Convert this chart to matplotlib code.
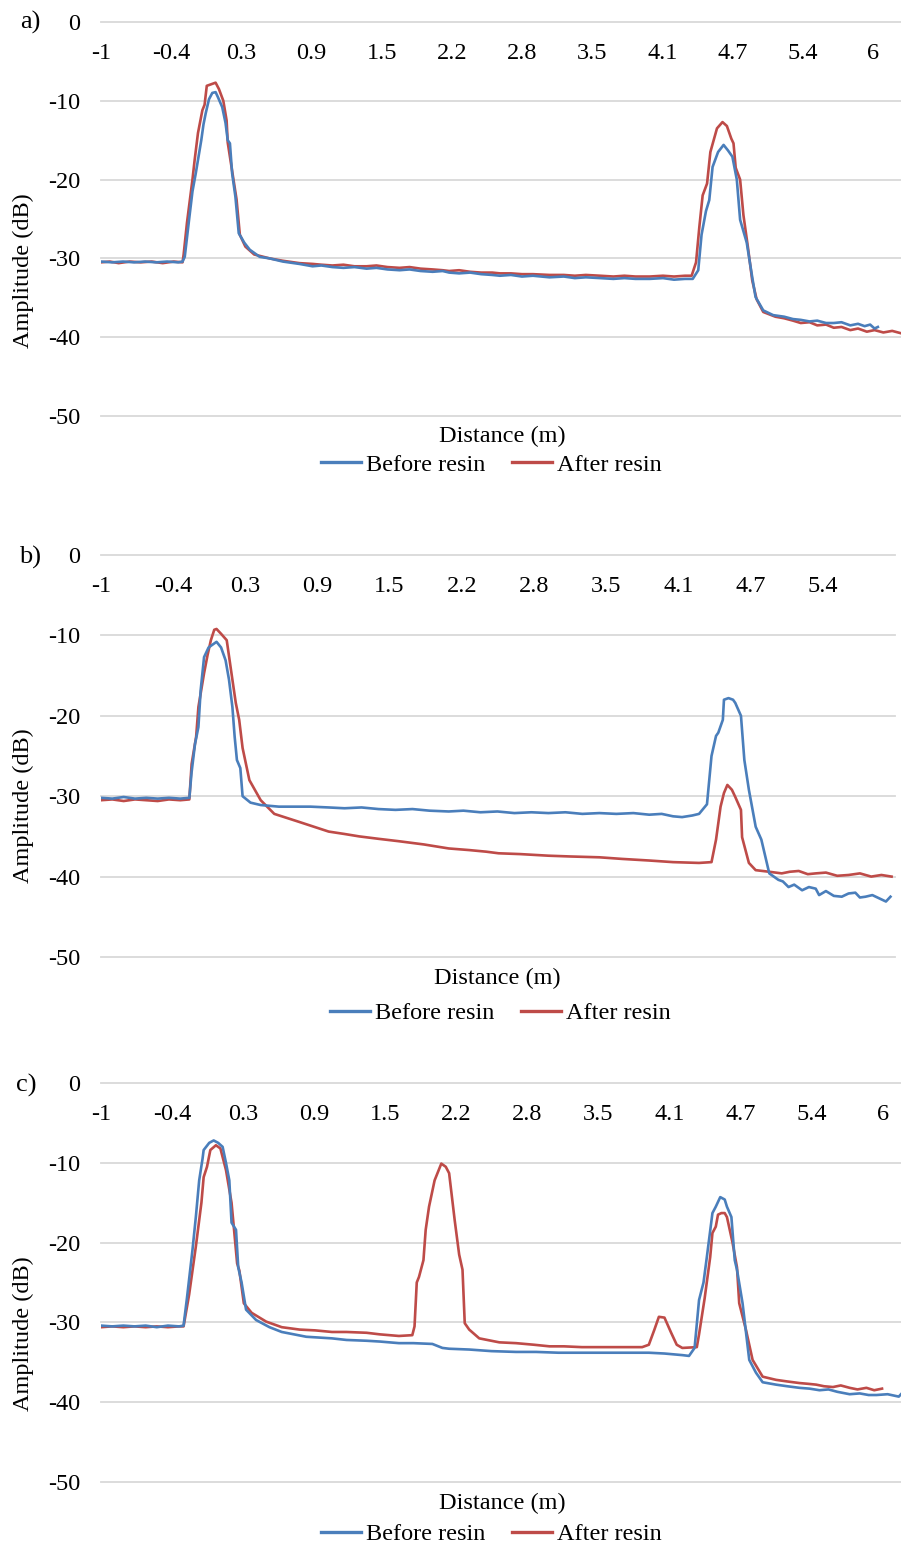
import numpy as np
import matplotlib
matplotlib.use("Agg")
import matplotlib.pyplot as plt
from matplotlib.lines import Line2D

plt.rcParams['font.family'] = ['Liberation Serif', 'DejaVu Serif']
plt.rcParams['font.size'] = 17.5
plt.rcParams['axes.unicode_minus'] = False

W, H = 901, 1548
BLUE = '#4a7ebb'
RED = '#be4b48'
GRID = '#d9d9d9'
FS = 17.5

# (distance m, amplitude dB)
a_before = [(-1.00,-30.4),(-0.90,-30.5),(-0.80,-30.4),(-0.70,-30.5),(-0.60,-30.4),(-0.50,-30.5),
            (-0.40,-30.4),(-0.30,-30.5),(-0.26,-30.4),(-0.24,-29.8),(-0.20,-25.0),(-0.17,-21.5),
            (-0.14,-19.2),(-0.09,-15.0),(-0.07,-13.0),(-0.05,-11.6),(-0.02,-9.8),(0.01,-9.0),
            (0.04,-8.9),(0.06,-9.5),(0.10,-10.8),(0.13,-12.8),(0.15,-15.0),(0.17,-15.4),
            (0.19,-19.2),(0.22,-22.2),(0.25,-26.8),(0.30,-28.0),(0.35,-28.9),(0.44,-29.8),
            (0.53,-30.0),(0.65,-30.4),(0.80,-30.7),(0.92,-31.0),(1.00,-30.9),(1.10,-31.1),
            (1.20,-31.2),(1.30,-31.1),(1.41,-31.3),(1.50,-31.2),(1.60,-31.4),(1.71,-31.5),
            (1.80,-31.4),(1.90,-31.6),(2.01,-31.7),(2.10,-31.6),(2.16,-31.8),(2.25,-31.9),
            (2.35,-31.8),(2.45,-32.0),(2.55,-32.1),(2.62,-32.2),(2.72,-32.1),(2.82,-32.3),
            (2.92,-32.2),(3.07,-32.4),(3.20,-32.3),(3.30,-32.5),(3.40,-32.4),(3.53,-32.5),
            (3.65,-32.6),(3.75,-32.5),(3.85,-32.6),(3.98,-32.6),(4.10,-32.5),(4.20,-32.7),
            (4.30,-32.6),(4.37,-32.6),(4.42,-31.5),(4.45,-27.0),(4.49,-24.0),(4.52,-22.6),
            (4.55,-18.4),(4.60,-16.5),(4.65,-15.6),(4.69,-16.3),(4.73,-17.1),(4.77,-20.0),
            (4.80,-25.1),(4.86,-28.0),(4.91,-32.4),(4.94,-34.9),(5.01,-36.6),(5.10,-37.2),
            (5.20,-37.4),(5.28,-37.7),(5.35,-37.8),(5.43,-38.0),(5.50,-37.9),(5.58,-38.2),
            (5.65,-38.2),(5.72,-38.1),(5.80,-38.5),(5.87,-38.3),(5.93,-38.6),(5.98,-38.4),
            (6.02,-38.9),(6.05,-38.7)]
a_after = [(-1.00,-30.5),(-0.92,-30.4),(-0.84,-30.6),(-0.74,-30.4),(-0.64,-30.5),(-0.54,-30.4),
           (-0.44,-30.6),(-0.34,-30.4),(-0.26,-30.5),(-0.25,-29.5),(-0.22,-25.5),(-0.17,-20.0),
           (-0.15,-17.5),(-0.12,-14.1),(-0.08,-11.2),(-0.06,-10.5),(-0.04,-8.1),(0.00,-7.9),
           (0.04,-7.7),(0.07,-8.5),(0.11,-10.0),(0.14,-12.5),(0.15,-15.3),(0.18,-18.0),
           (0.20,-19.8),(0.23,-22.5),(0.26,-27.0),(0.31,-28.5),(0.39,-29.5),(0.53,-30.0),
           (0.65,-30.3),(0.80,-30.6),(0.92,-30.7),(1.00,-30.8),(1.10,-30.9),(1.20,-30.8),
           (1.30,-31.0),(1.41,-31.0),(1.50,-30.9),(1.60,-31.1),(1.71,-31.2),(1.80,-31.1),
           (1.90,-31.3),(2.01,-31.4),(2.10,-31.5),(2.16,-31.6),(2.25,-31.5),(2.35,-31.7),
           (2.45,-31.8),(2.55,-31.8),(2.62,-31.9),(2.72,-31.9),(2.82,-32.0),(2.92,-32.0),
           (3.07,-32.1),(3.20,-32.1),(3.30,-32.2),(3.40,-32.1),(3.53,-32.2),(3.65,-32.3),
           (3.75,-32.2),(3.85,-32.3),(3.98,-32.3),(4.10,-32.2),(4.20,-32.3),(4.30,-32.2),
           (4.36,-32.2),(4.40,-30.5),(4.43,-26.0),(4.46,-22.0),(4.50,-20.5),(4.53,-16.5),
           (4.55,-15.5),(4.59,-13.5),(4.64,-12.7),(4.68,-13.2),(4.72,-14.8),(4.74,-15.4),
           (4.76,-18.5),(4.80,-20.0),(4.83,-24.5),(4.87,-28.5),(4.91,-32.8),(4.95,-35.2),
           (5.01,-36.8),(5.12,-37.4),(5.20,-37.6),(5.28,-37.9),(5.35,-38.2),(5.43,-38.1),
           (5.50,-38.5),(5.58,-38.4),(5.65,-38.8),(5.72,-38.7),(5.80,-39.1),(5.87,-38.9),
           (5.95,-39.3),(6.02,-39.1),(6.10,-39.4),(6.18,-39.2),(6.26,-39.5)]

b_before = [(-1.00,-30.2),(-0.90,-30.3),(-0.80,-30.1),(-0.70,-30.3),(-0.60,-30.2),(-0.50,-30.3),
            (-0.40,-30.2),(-0.30,-30.3),(-0.22,-30.2),(-0.20,-27.0),(-0.17,-23.5),(-0.14,-21.4),
            (-0.12,-16.8),(-0.09,-12.7),(-0.05,-11.5),(0.02,-10.8),(0.06,-11.5),(0.10,-13.1),
            (0.13,-15.5),(0.16,-18.9),(0.18,-22.6),(0.20,-25.5),(0.23,-26.5),(0.25,-30.0),
            (0.32,-30.8),(0.41,-31.1),(0.57,-31.3),(0.70,-31.3),(0.85,-31.3),(1.01,-31.4),
            (1.15,-31.5),(1.30,-31.4),(1.45,-31.6),(1.60,-31.7),(1.75,-31.6),(1.90,-31.8),
            (2.07,-31.9),(2.20,-31.8),(2.35,-32.0),(2.50,-31.9),(2.65,-32.1),(2.80,-32.0),
            (2.95,-32.1),(3.10,-32.0),(3.25,-32.2),(3.40,-32.1),(3.55,-32.2),(3.70,-32.1),
            (3.84,-32.3),(3.95,-32.2),(4.05,-32.5),(4.13,-32.6),(4.22,-32.4),(4.28,-32.2),
            (4.35,-31.0),(4.39,-25.0),(4.43,-22.5),(4.45,-22.1),(4.49,-20.5),(4.50,-18.0),
            (4.54,-17.8),(4.58,-18.0),(4.60,-18.4),(4.65,-20.0),(4.68,-25.5),(4.72,-29.2),
            (4.78,-33.8),(4.83,-35.4),(4.90,-39.6),(4.98,-40.4),(5.02,-40.6),(5.07,-41.3),
            (5.12,-41.0),(5.19,-41.7),(5.25,-41.3),(5.31,-41.5),(5.34,-42.3),(5.40,-41.8),
            (5.47,-42.4),(5.54,-42.5),(5.60,-42.1),(5.66,-42.0),(5.70,-42.6),(5.75,-42.5),
            (5.81,-42.3),(5.87,-42.7),(5.93,-43.1),(5.97,-42.5)]
b_after = [(-1.00,-30.5),(-0.90,-30.4),(-0.80,-30.6),(-0.70,-30.4),(-0.60,-30.5),(-0.50,-30.6),
           (-0.40,-30.4),(-0.30,-30.5),(-0.22,-30.4),(-0.20,-26.0),(-0.16,-22.6),(-0.14,-18.9),
           (-0.09,-14.7),(-0.06,-12.5),(-0.03,-10.6),(0.00,-9.3),(0.02,-9.2),(0.06,-9.8),
           (0.11,-10.6),(0.16,-15.5),(0.19,-18.4),(0.22,-20.5),(0.25,-24.0),(0.31,-28.0),
           (0.41,-30.5),(0.53,-32.2),(0.75,-33.2),(0.88,-33.8),(1.01,-34.4),(1.15,-34.7),
           (1.28,-35.0),(1.45,-35.3),(1.63,-35.6),(1.85,-36.0),(2.07,-36.5),(2.25,-36.7),
           (2.40,-36.9),(2.51,-37.1),(2.70,-37.2),(2.95,-37.4),(3.15,-37.5),(3.40,-37.6),
           (3.60,-37.8),(3.84,-38.0),(4.05,-38.2),(4.28,-38.3),(4.39,-38.2),(4.43,-35.4),
           (4.47,-31.3),(4.50,-29.6),(4.53,-28.6),(4.57,-29.2),(4.60,-30.1),(4.65,-31.7),
           (4.66,-35.1),(4.72,-38.3),(4.78,-39.2),(4.90,-39.4),(5.01,-39.6),(5.08,-39.4),
           (5.16,-39.3),(5.24,-39.7),(5.31,-39.6),(5.40,-39.5),(5.50,-39.9),(5.60,-39.8),
           (5.70,-39.6),(5.80,-40.0),(5.89,-39.8),(5.98,-40.0)]

c_before = [(-1.00,-30.4),(-0.90,-30.5),(-0.80,-30.4),(-0.70,-30.5),(-0.60,-30.4),(-0.50,-30.6),
            (-0.40,-30.4),(-0.30,-30.5),(-0.26,-30.4),(-0.23,-27.0),(-0.18,-20.9),(-0.15,-16.8),
            (-0.12,-12.2),(-0.09,-9.5),(-0.08,-8.4),(-0.03,-7.5),(0.01,-7.2),(0.05,-7.5),
            (0.09,-8.0),(0.12,-10.0),(0.15,-12.2),(0.17,-17.5),(0.21,-18.4),(0.23,-23.1),
            (0.26,-25.0),(0.30,-28.4),(0.39,-29.7),(0.51,-30.6),(0.62,-31.2),(0.84,-31.8),
            (1.07,-32.0),(1.20,-32.2),(1.38,-32.3),(1.50,-32.4),(1.67,-32.6),(1.80,-32.6),
            (1.97,-32.7),(2.06,-33.2),(2.12,-33.3),(2.30,-33.4),(2.50,-33.6),(2.72,-33.7),
            (2.90,-33.7),(3.10,-33.8),(3.31,-33.8),(3.50,-33.8),(3.70,-33.8),(3.91,-33.8),
            (4.05,-33.9),(4.21,-34.1),(4.27,-34.2),(4.32,-33.2),(4.36,-27.2),(4.40,-25.0),
            (4.43,-21.8),(4.48,-16.3),(4.51,-15.5),(4.55,-14.3),(4.59,-14.6),(4.61,-15.5),
            (4.65,-16.8),(4.68,-22.2),(4.70,-23.4),(4.75,-27.6),(4.81,-34.7),(4.87,-36.3),
            (4.93,-37.5),(5.05,-37.8),(5.15,-38.0),(5.26,-38.2),(5.35,-38.3),(5.44,-38.5),
            (5.52,-38.4),(5.60,-38.7),(5.71,-39.0),(5.80,-38.9),(5.88,-39.1),(5.95,-39.1),
            (6.05,-39.0),(6.15,-39.3),(6.17,-39.0)]
c_after = [(-1.00,-30.6),(-0.90,-30.5),(-0.80,-30.6),(-0.70,-30.5),(-0.60,-30.6),(-0.50,-30.5),
           (-0.40,-30.6),(-0.30,-30.5),(-0.26,-30.5),(-0.21,-26.5),(-0.15,-20.5),(-0.10,-15.0),
           (-0.08,-11.8),(-0.05,-10.5),(-0.02,-8.4),(0.03,-7.8),(0.07,-8.2),(0.12,-10.9),
           (0.17,-15.0),(0.19,-18.0),(0.22,-22.6),(0.24,-23.5),(0.28,-27.6),(0.35,-28.8),
           (0.48,-29.9),(0.62,-30.6),(0.78,-30.9),(0.92,-31.0),(1.07,-31.2),(1.20,-31.2),
           (1.38,-31.3),(1.50,-31.5),(1.67,-31.7),(1.79,-31.6),(1.81,-30.5),(1.83,-25.0),
           (1.85,-24.3),(1.89,-22.2),(1.91,-18.4),(1.94,-15.5),(1.99,-12.2),(2.01,-11.5),
           (2.05,-10.1),(2.09,-10.5),(2.12,-11.3),(2.17,-17.2),(2.21,-21.5),(2.24,-23.4),
           (2.26,-30.1),(2.30,-30.9),(2.39,-32.0),(2.57,-32.5),(2.72,-32.6),(2.88,-32.8),
           (3.02,-33.0),(3.15,-33.0),(3.31,-33.1),(3.50,-33.1),(3.70,-33.1),(3.85,-33.1),
           (3.91,-32.8),(3.96,-30.9),(4.00,-29.3),(4.05,-29.4),(4.11,-31.3),(4.16,-32.8),
           (4.21,-33.2),(4.34,-33.1),(4.36,-31.5),(4.41,-27.0),(4.46,-21.8),(4.48,-18.8),
           (4.51,-18.0),(4.53,-16.5),(4.56,-16.3),(4.59,-16.3),(4.61,-16.8),(4.66,-20.0),
           (4.70,-23.1),(4.72,-27.6),(4.78,-30.9),(4.84,-34.7),(4.93,-36.8),(5.05,-37.2),
           (5.15,-37.4),(5.26,-37.6),(5.34,-37.7),(5.41,-37.8),(5.48,-38.0),(5.56,-38.1),
           (5.63,-37.9),(5.71,-38.2),(5.78,-38.4),(5.86,-38.2),(5.93,-38.5),(6.00,-38.3)]

x_labels_full = ['-1', '-0.4', '0.3', '0.9', '1.5', '2.2', '2.8', '3.5', '4.1', '4.7', '5.4', '6']
x_labels_b = x_labels_full[:-1]
y_ticks = [0, -10, -20, -30, -40, -50]
label_step = 0.637   # one tick label every N samples of the distance axis


def fx(px):
    return px / W


def fy(py):
    return 1 - py / H


# per panel: axes box (left, top, right, bottom in px), x max, labels, letter, text spots
panels = [
    dict(letter='a)', box=(101, 22, 901, 416), xmax=6.26, labels=x_labels_full,
         before=a_before, after=a_after, letter_xy=(30, 22), xlabel_xy=(502, 436),
         legend_xy=(491, 465), ylabel_y=271),
    dict(letter='b)', box=(101, 555, 895, 957), xmax=6.01, labels=x_labels_b,
         before=b_before, after=b_after, letter_xy=(30, 557), xlabel_xy=(497, 978),
         legend_xy=(500, 1013), ylabel_y=806),
    dict(letter='c)', box=(101, 1083, 901, 1482), xmax=6.17, labels=x_labels_full,
         before=c_before, after=c_after, letter_xy=(26, 1085), xlabel_xy=(502, 1503),
         legend_xy=(491, 1534), ylabel_y=1334),
]

fig = plt.figure(figsize=(W / 100, H / 100), dpi=100)

for p in panels:
    l, t, r, b = p['box']
    ax = fig.add_axes([fx(l), fy(b), fx(r - l), (b - t) / H])
    bx, by = np.array(p['before']).T
    rx, ry = np.array(p['after']).T
    ax.plot(bx, by, color=BLUE, lw=1.9, solid_joinstyle='round', zorder=3)
    ax.plot(rx, ry, color=RED, lw=1.9, solid_joinstyle='round', zorder=2)

    ax.set_xlim(-1.0, p['xmax'])
    ax.set_ylim(-50, 0)
    ax.set_yticks(y_ticks)
    ax.set_yticklabels([str(v) for v in y_ticks])
    ticks = -1 + label_step * np.arange(len(p['labels']))
    ax.set_xticks(ticks)
    ax.set_xticklabels(p['labels'])

    for s in ax.spines.values():
        s.set_color('none')
    ax.spines['bottom'].set_position(('data', 0))
    ax.tick_params(axis='x', length=0, pad=15, labelsize=FS)
    ax.tick_params(axis='y', length=0, pad=15, labelsize=FS)
    ax.yaxis.grid(True, color=GRID, lw=1.3)
    ax.set_axisbelow(True)
    for gl in ax.yaxis.get_gridlines():
        gl.set_clip_on(False)

    fig.text(fx(23), fy(p['ylabel_y']), 'Amplitude (dB)', rotation=90,
             ha='center', va='center', fontsize=FS)
    fig.text(fx(p['xlabel_xy'][0]), fy(p['xlabel_xy'][1]), 'Distance (m)',
             ha='center', va='center', fontsize=FS)
    fig.text(fx(p['letter_xy'][0]), fy(p['letter_xy'][1]), p['letter'],
             ha='center', va='center', fontsize=19)

    handles = [Line2D([], [], color=BLUE, lw=2.4), Line2D([], [], color=RED, lw=2.4)]
    fig.legend(handles, ['Before resin', 'After resin'], loc='center',
               bbox_to_anchor=(fx(p['legend_xy'][0]), fy(p['legend_xy'][1])),
               ncol=2, frameon=False, fontsize=FS, handlelength=1.65,
               handletextpad=0.2, columnspacing=1.1, borderpad=0, borderaxespad=0)

fig.savefig('out.png', dpi=100)
